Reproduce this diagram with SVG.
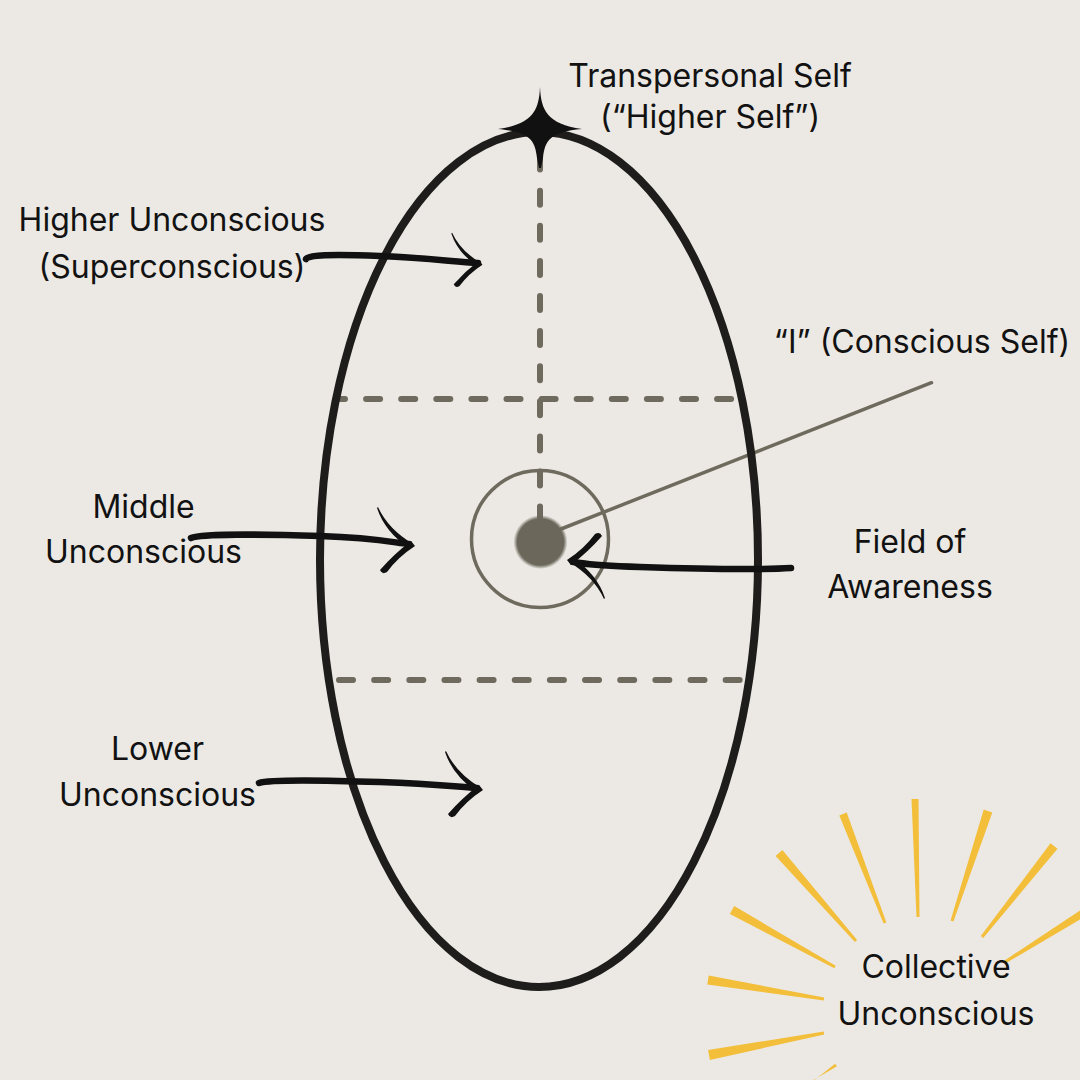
<svg xmlns="http://www.w3.org/2000/svg" width="1080" height="1080" viewBox="0 0 1080 1080">
  <style>
    .lbl { font-family: Inter, "Noto Sans", "Liberation Sans", sans-serif; font-size: 32px; fill: #121212; text-anchor: middle; }
    .dash { fill: none; stroke: #6e6b5e; stroke-width: 6; stroke-linecap: round; }
    .shaft { fill: none; stroke: #111; stroke-width: 6.5; stroke-linecap: round; }
    .ink { fill: #111; }
    .ray { fill: #F3BE3A; }
  </style>
  <defs>
    <radialGradient id="dotGrad" cx="0.5" cy="0.5" r="0.5">
      <stop offset="0" stop-color="#6b685b"/>
      <stop offset="0.86" stop-color="#6b685b"/>
      <stop offset="1" stop-color="#6b685b" stop-opacity="0"/>
    </radialGradient>
    <g id="head">
      <path class="ink" d="M-34,-37 Q-24,-15 1,0 L-3,4 Q-27,-12 -35,-36 Z"/>
      <path class="ink" d="M-1,-3 L3,2 Q-14,13 -25,28 Q-30,31 -32,26 Q-18,10 -1,-3 Z"/>
    </g>
  </defs>

  <rect x="0" y="0" width="1080" height="1080" fill="#ECE9E4"/>

  <g id="collective-unconscious">
    <polygon class="ray" points="729.8,913.9 734.2,906.1 835.7,965.7 834.3,968.3"/>
    <polygon class="ray" points="775.6,856.0 782.4,850.0 857.1,940.0 854.9,942.0"/>
    <polygon class="ray" points="839.3,815.4 846.7,812.6 886.4,922.5 883.6,923.5"/>
    <polygon class="ray" points="911.5,799 918.5,799 919.5,917 916.5,917"/>
    <polygon class="ray" points="992.3,812.4 983.7,809.6 950.6,920.5 953.4,921.5"/>
    <polygon class="ray" points="1057.5,848.8 1050.5,843.2 980.8,936.1 983.2,937.9"/>
    <polygon class="ray" points="1087.1,915.4 1082.9,908.6 1004.2,960.7 1005.8,963.3"/>
    <polygon class="ray" points="707.3,984.4 708.7,975.6 824.2,997.5 823.8,1000.5"/>
    <polygon class="ray" points="709.9,1059.9 708.1,1050.1 823.7,1031.5 824.3,1034.5"/>
    <polygon class="ray" points="797.7,1093.3 802.3,1086.7 836.9,1066.2 835.1,1063.8"/>
    <text class="lbl" x="936" y="978">Collective</text>
    <text class="lbl" x="936" y="1025">Unconscious</text>
  </g>

  <g id="connectors">
    <line class="dash" x1="339" y1="399" x2="745" y2="399" stroke-dasharray="14 21.1" stroke-dashoffset="8"/>
    <line class="dash" x1="339" y1="680" x2="745" y2="680" stroke-dasharray="14 21.15"/>
    <line class="dash" x1="540" y1="155.6" x2="540" y2="530" stroke-dasharray="14 21.1"/>
    <line x1="561" y1="529" x2="931.5" y2="382.7" stroke="#6e6b5e" stroke-width="3.5" stroke-linecap="round"/>
  </g>

  <g id="psyche">
    <ellipse cx="539" cy="559.5" rx="219" ry="427.5" fill="none" stroke="#1e1d1b" stroke-width="8"/>
  </g>

  <g id="transpersonal-self">
    <path class="ink" d="M540,87 C541,110 547,124 582,129 C550,132 545,140 543,158 L541,168 L539,168 L537,158 C535,140 530,132 498,129 C533,124 539,110 540,87 Z"/>
    <text class="lbl" x="710" y="87">Transpersonal Self</text>
    <text class="lbl" x="710" y="128">(“Higher Self”)</text>
  </g>

  <g id="field-of-awareness">
    <circle cx="540" cy="539" r="68.5" fill="none" stroke="#6e6b5e" stroke-width="3.5"/>
    <text class="lbl" x="910" y="553">Field of</text>
    <text class="lbl" x="910" y="598">Awareness</text>
  </g>

  <g id="conscious-self">
    <circle cx="540.5" cy="542" r="27" fill="url(#dotGrad)"/>
    <text class="lbl" x="922" y="353">“I” (Conscious Self)</text>
  </g>

  <g id="higher-unconscious">
    <text class="lbl" x="172" y="231">Higher Unconscious</text>
    <text class="lbl" x="172" y="278">(Superconscious)</text>
  </g>

  <g id="middle-unconscious">
    <text class="lbl" x="143.5" y="518">Middle</text>
    <text class="lbl" x="143.5" y="563">Unconscious</text>
  </g>

  <g id="lower-unconscious">
    <text class="lbl" x="157.5" y="760">Lower</text>
    <text class="lbl" x="157.5" y="806">Unconscious</text>
  </g>

  <g id="arrows">
    <path class="shaft" stroke-width="5.5" d="M306,259 C308,255 330,254 380,256 S455,262 478,263"/>
    <use href="#head" transform="translate(480,263) scale(0.82)"/>
    <path class="shaft" d="M191,538 C200,534 260,534 320,536 S395,543 409,544"/>
    <use href="#head" transform="translate(412,544)"/>
    <path class="shaft" d="M259,783 C270,779 320,780 380,782 S455,787 477,788"/>
    <use href="#head" transform="translate(480,788)"/>
    <path class="shaft" d="M791,568 C760,570 700,569 640,567 S585,563 573,562"/>
    <use href="#head" transform="translate(570,562) rotate(180)"/>
  </g>
</svg>
